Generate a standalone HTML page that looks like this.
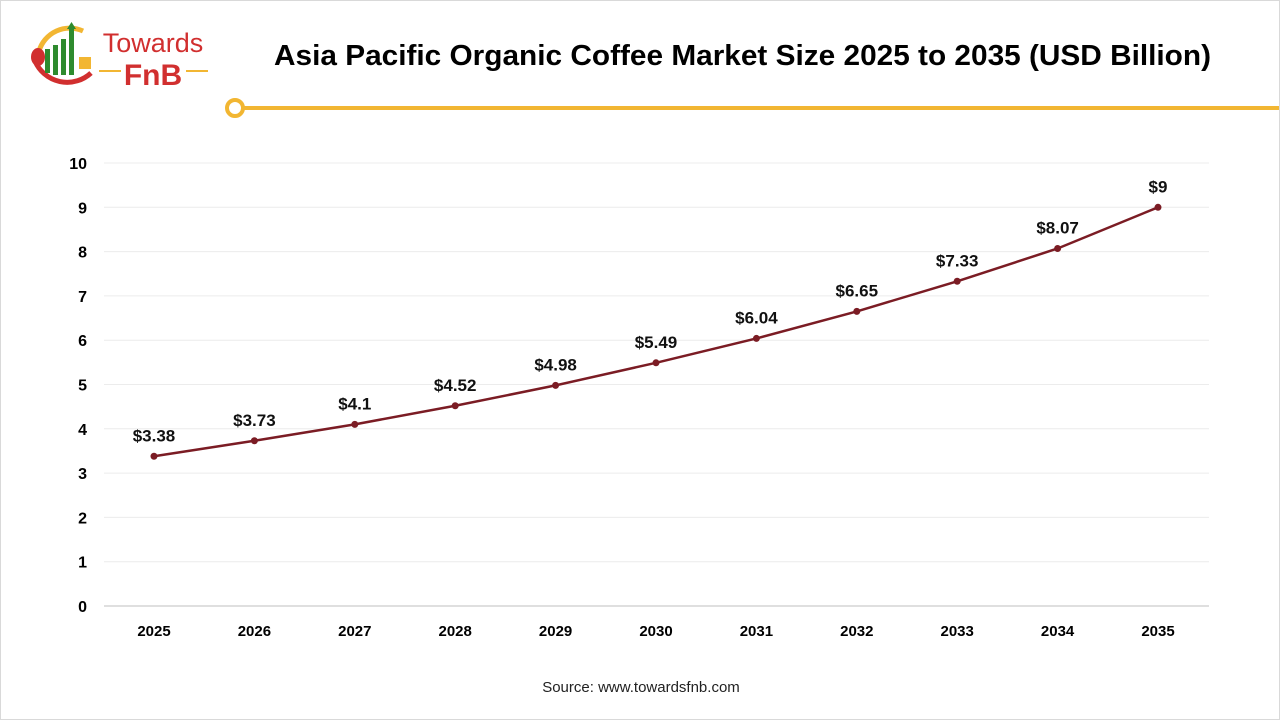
<!DOCTYPE html>
<html><head><meta charset="utf-8">
<style>
html,body{margin:0;padding:0;background:#fff}
#wrap{position:relative;width:1280px;height:720px;overflow:hidden;font-family:"Liberation Sans",Arial,sans-serif;box-sizing:border-box;border:1px solid #d9d9d9}
</style></head>
<body>
<div id="wrap">
<svg width="1280" height="720" xmlns="http://www.w3.org/2000/svg">
  <g>
    <path d="M38,50 A32,32 0 0 1 82,30" stroke="#f2b632" stroke-width="5" fill="none"/>
    <path d="M34,60 A35,35 0 0 0 90,72" stroke="#d12f2f" stroke-width="5" fill="none"/>
    <ellipse cx="37" cy="56" rx="7" ry="9" fill="#d12f2f"/>
    <rect x="44" y="48" width="5" height="24" fill="#2e8b2e"/>
    <rect x="52" y="44" width="5" height="30" fill="#2e8b2e"/>
    <rect x="60" y="38" width="5" height="36" fill="#2e8b2e"/>
    <rect x="68" y="26" width="5" height="48" fill="#2e8b2e"/>
    <polygon points="66,28 70.5,21 75,28" fill="#2e8b2e"/>
    <rect x="78" y="56" width="12" height="12" fill="#f2b632"/>
    <text x="152" y="51" font-size="27" fill="#d12f2f" text-anchor="middle" font-family="Liberation Sans, sans-serif">Towards</text>
    <text x="152" y="84" font-size="30" font-weight="bold" fill="#d12f2f" text-anchor="middle" font-family="Liberation Sans Narrow, Liberation Sans, sans-serif">FnB</text>
    <line x1="98" y1="70" x2="120" y2="70" stroke="#f2b632" stroke-width="2"/>
    <line x1="185" y1="70" x2="207" y2="70" stroke="#f2b632" stroke-width="2"/>
  </g>
  <text x="273" y="64" font-size="29" font-weight="bold" textLength="937" lengthAdjust="spacingAndGlyphs" fill="#000">Asia Pacific Organic Coffee Market Size 2025 to 2035 (USD Billion)</text>
  <g>
    <line x1="240" y1="107" x2="1280" y2="107" stroke="#f2b632" stroke-width="4"/>
    <circle cx="234" cy="107" r="8" fill="#fff" stroke="#f2b632" stroke-width="4"/>
  </g>
  <g id="grid"></g>
  <g id="yticks"></g>
  <g id="xticks"></g>
  <g id="series"></g>
  <text x="640" y="691" font-size="15" text-anchor="middle" fill="#222">Source: www.towardsfnb.com</text>
</svg>
</div>
<script>
const years = ["2025","2026","2027","2028","2029","2030","2031","2032","2033","2034","2035"];
const values = [3.38,3.73,4.1,4.52,4.98,5.49,6.04,6.65,7.33,8.07,9];
const valueLabels = ["$3.38","$3.73","$4.1","$4.52","$4.98","$5.49","$6.04","$6.65","$7.33","$8.07","$9"];
const yTicks = [0,1,2,3,4,5,6,7,8,9,10];

const NS="http://www.w3.org/2000/svg";
const y0=605, y10=162, xa=153, xb=1157;
function yScale(v){return y0-(v/10)*(y0-y10);}
function xScale(i){return xa+i*(xb-xa)/(years.length-1);}
function mk(tag,attrs,parent,text){const e=document.createElementNS(NS,tag);for(const k in attrs)e.setAttribute(k,attrs[k]);if(text!==undefined)e.textContent=text;parent.appendChild(e);return e;}

const grid=document.getElementById('grid'), yt=document.getElementById('yticks'), xt=document.getElementById('xticks'), s=document.getElementById('series');
yTicks.forEach(t=>{
  const y=yScale(t);
  const l=mk('line',{x1:103,x2:1208,y1:y,y2:y,stroke:t===0?'#bfbfbf':'#ececec','stroke-width':1},grid);
  
  
  const tx=mk('text',{x:86,y:y+6,'font-size':16,'font-weight':'bold','text-anchor':'end',fill:'#000'},yt,String(t));
  
  
});
years.forEach((yr,i)=>{
  const tx=mk('text',{x:xScale(i),y:635,'font-size':15,'font-weight':'bold','text-anchor':'middle',fill:'#000'},xt,yr);
  
  
});
const pts=values.map((v,i)=>xScale(i)+','+yScale(v)).join(' ');
const pl=mk('polyline',{points:pts,fill:'none',stroke:'#7b1c24','stroke-width':2.5},s);


values.forEach((v,i)=>{
  const c=mk('circle',{cx:xScale(i),cy:yScale(v),r:3.5,fill:'#7b1c24'},s);
  
  
  const t=mk('text',{x:xScale(i),y:yScale(v)-15,'font-size':17,'font-weight':'bold','text-anchor':'middle',fill:'#111'},s,valueLabels[i]);
  
  
});
</script>
</body></html>
